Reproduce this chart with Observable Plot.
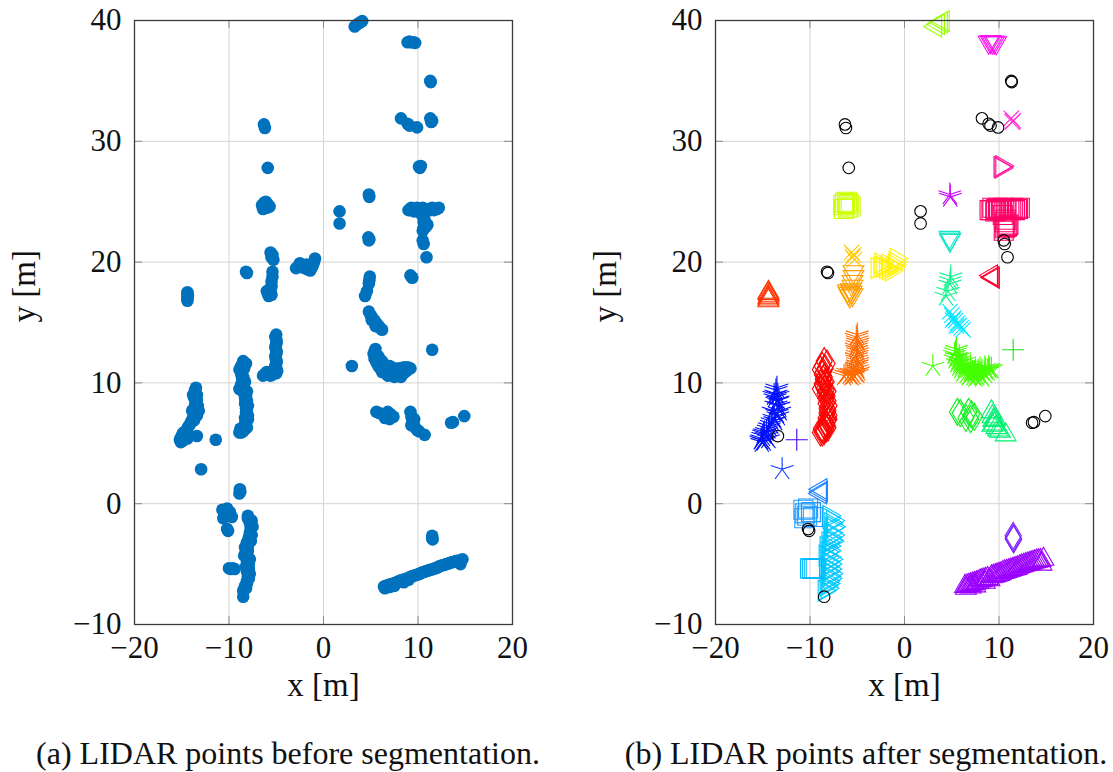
<!DOCTYPE html>
<html>
<head>
<meta charset="utf-8">
<script src="https://cdn.jsdelivr.net/npm/d3@7"></script>
<script src="https://cdn.jsdelivr.net/npm/@observablehq/plot@0.6"></script>
<style>
  html, body { margin: 0; padding: 0; background: #fff; }
  #wrap { position: relative; width: 1113px; height: 772px; overflow: hidden; font-family: "Liberation Serif", serif; }
  .panel { position: absolute; top: 0; }
  .panel svg { display: block; }
  .cap { position: absolute; top: 737px; font-size: 32px; line-height: 32px; text-align: center; white-space: nowrap; color: #111; }
</style>
</head>
<body>
<div id="wrap">
  <div class="panel" id="pa" style="left:0px"></div>
  <div class="panel" id="pb" style="left:556px"></div>
  <div class="cap" style="left:0px;width:576px">(a) LIDAR points before segmentation.</div>
  <div class="cap" style="left:620px;width:492px">(b) LIDAR points after segmentation.</div>
</div>
<script>
// ---------- axis ticks ----------
const xTicks = [-20, -10, 0, 10, 20];
const yTicks = [-10, 0, 10, 20, 30, 40];
const xDomain = [-20, 20];
const yDomain = [-10, 40];

// ---------- segments (x [m], y [m]) ----------
const segLimeTri = [[3.3,39.5],[3.6,39.7],[3.9,39.85],[4.1,39.95]];
const segMagentaTri = [[8.9,38.2],[9.1,38.25],[9.3,38.2],[9.5,38.2],[9.7,38.15]];
const segPinkX = [[11.3,31.9],[11.5,31.7],[11.4,31.6]];
const segPinkTri = [[10.1,27.9],[10.2,27.8],[10.3,27.95]];
const segVioletStar = [[4.8,25.6],[4.85,25.4]];
const segCrimsonSq = [[9.0,24.3],[9.2,24.3],[9.3,24.5],[9.6,24.2],[9.7,24.4],[9.9,24.5],[10.0,24.3],[10.2,24.3],[10.3,24.4],[10.5,24.5],[10.7,24.4],[10.8,24.3],[11.1,24.4],[11.3,24.3],[11.5,24.5],[11.7,24.3],[11.9,24.4],[12.0,24.4],[12.2,24.5],[10.4,23.9],[10.7,23.5],[10.6,23.3],[10.8,22.9],[10.9,23.0],[10.6,22.8],[10.5,22.6],[11.0,23.1]];
const segLimeSq = [[-6.5,24.7],[-6.3,24.9],[-6.1,25.0],[-5.9,24.8],[-5.7,24.6],[-6.4,24.4],[-6.0,24.5]];
const segTealTri = [[4.75,22.05],[4.85,21.9],[4.8,21.8]];
const segGoldX = [[-5.6,20.8],[-5.4,20.6],[-5.5,20.4],[-5.3,20.2]];
const segOrangeTri = [[-5.4,19.2],[-5.4,18.8],[-5.5,18.4],[-5.5,18.0],[-5.7,17.7],[-5.9,17.4],[-5.8,17.2],[-5.5,17.3],[-6.0,17.6],[-5.6,17.5]];
const segYellowTri = [[-2.9,19.5],[-2.6,19.6],[-2.3,19.6],[-2.0,19.5],[-1.7,19.4],[-1.4,19.3],[-1.2,19.6],[-1.0,20.0],[-0.9,20.3],[-1.1,19.8],[-2.5,19.9],[-1.8,19.8]];
const segRedTri = [[9.2,18.9],[9.35,18.75],[9.4,18.7]];
const segRedOrangeTri = [[-14.4,16.8],[-14.4,16.95],[-14.4,17.1],[-14.35,17.25],[-14.4,17.4],[-14.4,17.5]];
const segSeaStar = [[4.9,18.8],[4.85,18.5],[4.8,18.2],[4.6,17.6],[4.4,17.2]];
const segCyanX = [[4.8,15.9],[5.0,15.6],[5.2,15.35],[5.4,15.15],[5.6,14.95],[5.8,14.75],[6.0,14.55],[6.2,14.4],[5.1,15.2],[5.5,14.7]];
const segGreenPlus = [[11.5,12.75]];
const segGreenStar = [[3.0,11.4],[5.5,12.8],[5.4,12.6],[5.3,12.4],[5.5,12.2],[5.4,12.0],[5.7,11.9],[5.6,11.7],[5.9,11.7],[5.8,11.4],[6.1,11.5],[6.0,11.2],[6.4,11.3],[6.3,11.0],[6.7,11.2],[6.6,10.8],[7.0,11.0],[6.9,10.7],[7.4,10.9],[7.3,10.6],[7.8,11.0],[7.7,10.6],[8.2,11.0],[8.1,10.65],[8.6,11.1],[8.5,10.8],[8.9,11.3],[8.8,11.0],[9.2,11.2],[9.0,11.2],[8.5,11.3],[8.0,11.2],[7.5,11.2],[7.0,11.4],[6.5,11.5],[7.8,10.8],[7.2,10.9],[6.2,11.8],[5.8,12.2],[6.8,10.6],[7.5,10.5],[8.2,10.5],[6.2,10.9]];
const segOrangeStar = [[-5.0,14.0],[-5.1,13.8],[-5.0,13.6],[-4.95,13.4],[-5.0,13.2],[-5.1,13.0],[-5.05,12.8],[-4.95,12.6],[-5.0,12.4],[-5.1,12.2],[-5.05,12.0],[-4.95,11.8],[-5.0,11.6],[-5.1,11.4],[-5.0,11.2],[-4.9,11.0],[-5.0,10.8],[-5.2,10.9],[-5.4,10.7],[-5.6,10.6],[-5.8,10.7],[-6.2,10.75],[-6.4,10.6],[-5.6,10.9],[-6.0,10.9]];
const segRedDiam = [[-8.5,11.8],[-8.2,11.6],[-8.7,11.4],[-8.4,11.2],[-8.9,11.1],[-8.6,10.9],[-8.7,10.7],[-8.5,10.5],[-8.6,10.3],[-8.4,10.0],[-8.7,9.9],[-8.6,9.7],[-8.5,9.5],[-8.3,9.4],[-8.4,9.1],[-8.2,8.9],[-8.3,8.7],[-8.1,8.5],[-8.3,8.3],[-8.0,8.1],[-8.2,7.9],[-8.1,7.7],[-8.2,7.5],[-8.0,7.3],[-8.3,7.1],[-8.1,6.9],[-8.3,6.7],[-8.2,6.5],[-8.4,6.4],[-8.3,6.2],[-8.6,6.1],[-8.8,6.2],[-8.5,6.0],[-8.9,5.9],[-8.7,5.9],[-8.1,6.3],[-8.0,7.0],[-8.1,9.3],[-8.3,10.1],[-8.9,9.5]];
const segBlueStar = [[-13.5,9.6],[-13.6,9.4],[-13.6,9.1],[-13.8,9.0],[-13.7,8.8],[-13.4,8.6],[-13.5,8.5],[-13.6,8.2],[-13.3,8.1],[-13.2,7.7],[-13.5,7.5],[-13.4,7.3],[-13.8,7.1],[-13.7,6.9],[-14.0,6.8],[-14.1,6.6],[-14.3,6.4],[-14.4,6.2],[-14.6,6.0],[-14.8,5.9],[-14.9,5.8],[-15.0,5.6],[-15.1,5.4],[-15.2,5.3],[-14.9,5.2],[-15.1,5.1],[-14.6,5.6],[-14.4,5.4],[-13.9,7.7],[-13.4,9.0]];
const segVioletPlus = [[-11.4,5.3]];
const segBlueStar2 = [[-12.95,2.85]];
const segGreenDiam = [[5.6,7.6],[5.9,7.5],[6.5,7.1],[6.8,7.6],[7.1,7.4],[7.4,7.2],[7.0,7.0]];
const segSpringTri = [[9.2,7.6],[9.3,7.2],[9.4,6.9],[9.5,6.6],[9.7,6.3],[9.9,6.1],[10.1,6.0],[9.6,7.0],[9.3,6.5],[10.7,5.7]];
const segBlueTri = [[-8.85,1.2],[-8.8,1.0],[-8.9,0.85]];
const segLightBlueSq = [[-10.7,-0.5],[-10.5,-0.8],[-10.2,-0.4],[-9.9,-0.7],[-9.7,-1.1],[-10.6,-1.2],[-10.3,-1.0]];
const segSkyTri = [[-8.0,-1.0],[-8.0,-1.2],[-7.6,-1.4],[-7.8,-1.6],[-7.5,-1.9],[-7.7,-2.0],[-7.8,-2.4],[-7.6,-2.6],[-7.9,-2.8],[-7.8,-3.0],[-7.7,-3.1],[-8.1,-3.2],[-8.0,-3.5],[-8.3,-3.6],[-8.0,-3.9],[-8.2,-4.0],[-8.4,-4.3],[-8.0,-4.4],[-7.8,-4.6],[-8.1,-4.8],[-7.9,-5.0],[-8.2,-5.2],[-7.9,-5.4],[-8.1,-5.6],[-7.8,-5.8],[-8.0,-6.0],[-7.9,-6.2],[-8.1,-6.4],[-8.1,-6.6],[-8.3,-6.8],[-8.2,-7.0],[-8.5,-7.2]];
const segSkySq = [[-10.0,-5.35],[-9.8,-5.4],[-9.6,-5.35],[-9.4,-5.4]];
const segPurpleDiam = [[11.5,-2.65],[11.5,-2.85],[11.55,-2.95]];
const segPurpleTri = [[6.4,-6.85],[6.5,-7.0],[6.6,-6.8],[6.8,-6.75],[7.0,-6.9],[7.0,-6.7],[7.2,-6.65],[7.4,-6.6],[7.5,-6.8],[7.6,-6.55],[7.8,-6.5],[8.0,-6.4],[8.2,-6.35],[8.4,-6.3],[8.5,-6.5],[8.6,-6.25],[8.8,-6.2],[9.0,-6.3],[9.2,-6.05],[9.4,-6.0],[9.6,-5.95],[9.8,-5.9],[10.0,-5.85],[10.2,-5.8],[10.4,-5.7],[10.6,-5.65],[10.8,-5.6],[11.0,-5.55],[11.2,-5.5],[11.4,-5.45],[11.6,-5.4],[11.8,-5.35],[12.0,-5.3],[12.2,-5.2],[12.4,-5.15],[12.6,-5.1],[12.8,-5.05],[13.0,-5.0],[13.2,-4.95],[13.4,-4.9],[13.6,-4.85],[13.8,-4.8],[14.0,-4.75],[14.2,-4.72],[14.4,-4.7],[14.5,-5.0],[14.7,-4.6]];
const noisePts = [[-6.3,31.4],[-6.2,31.1],[-5.9,27.8],[-8.2,19.2],[-8.1,19.1],[1.7,24.2],[1.7,23.2],[8.2,31.9],[8.9,31.45],[9.1,31.3],[9.9,31.15],[11.3,35.0],[11.35,34.9],[10.5,21.8],[10.6,21.5],[10.9,20.4],[-13.4,5.6],[-10.2,-2.1],[-10.1,-2.25],[-8.5,-7.7],[13.5,6.7],[13.7,6.75],[14.9,7.25]];

// ---------- marker shapes ----------
function mk(fn) { return { draw(ctx, size) { fn(ctx, Math.sqrt(size / Math.PI)); } }; }
const SYM = {
  triUp: mk((c, R) => { c.moveTo(0, -R); c.lineTo(R * 0.866, R * 0.5); c.lineTo(-R * 0.866, R * 0.5); c.closePath(); }),
  triDown: mk((c, R) => { c.moveTo(0, R); c.lineTo(R * 0.866, -R * 0.5); c.lineTo(-R * 0.866, -R * 0.5); c.closePath(); }),
  triLeft: mk((c, R) => { c.moveTo(-R, 0); c.lineTo(R * 0.5, -R * 0.866); c.lineTo(R * 0.5, R * 0.866); c.closePath(); }),
  triRight: mk((c, R) => { c.moveTo(R, 0); c.lineTo(-R * 0.5, -R * 0.866); c.lineTo(-R * 0.5, R * 0.866); c.closePath(); }),
  square: mk((c, R) => { c.moveTo(-R, -R); c.lineTo(R, -R); c.lineTo(R, R); c.lineTo(-R, R); c.closePath(); }),
  diamond: mk((c, R) => { c.moveTo(0, -R); c.lineTo(0.6 * R, 0); c.lineTo(0, R); c.lineTo(-0.6 * R, 0); c.closePath(); }),
  plus: mk((c, R) => { c.moveTo(-R, 0); c.lineTo(R, 0); c.moveTo(0, -R); c.lineTo(0, R); }),
  times: mk((c, R) => { const h = R * 0.707; c.moveTo(-h, -h); c.lineTo(h, h); c.moveTo(-h, h); c.lineTo(h, -h); }),
  star: mk((c, R) => { for (let i = 0; i < 5; i++) { const a = -Math.PI / 2 + i * 2 * Math.PI / 5; c.moveTo(0, 0); c.lineTo(R * Math.cos(a), R * Math.sin(a)); } }),
  circle: mk((c, R) => { c.moveTo(R, 0); c.arc(0, 0, R, 0, 2 * Math.PI); })
};
const SIZE = { triUp: 12, triDown: 12, triLeft: 12, triRight: 12, square: 9.5, diamond: 13.5, plus: 11, times: 11, star: 12, circle: 5.8 };

const segments = [
  { pts: segPurpleTri, color: "#9900ff", sym: "triUp" },
  { pts: segPurpleDiam, color: "#7a1cff", sym: "diamond" },
  { pts: segSkyTri, color: "#00c8ff", sym: "triRight" },
  { pts: segSkySq, color: "#00b8ff", sym: "square" },
  { pts: segLightBlueSq, color: "#1f9bff", sym: "square" },
  { pts: segBlueTri, color: "#1a80ff", sym: "triLeft" },
  { pts: segBlueStar, color: "#0010ff", sym: "star" },
  { pts: segBlueStar2, color: "#0a3cff", sym: "star" },
  { pts: segVioletPlus, color: "#4400ff", sym: "plus" },
  { pts: segRedDiam, color: "#ff0000", sym: "diamond" },
  { pts: segOrangeStar, color: "#ff6a00", sym: "star" },
  { pts: segGreenDiam, color: "#12f020", sym: "diamond" },
  { pts: segSpringTri, color: "#00f070", sym: "triUp" },
  { pts: segGreenStar, color: "#44ff00", sym: "star" },
  { pts: segGreenPlus, color: "#18e020", sym: "plus" },
  { pts: segCyanX, color: "#00e6ff", sym: "times" },
  { pts: segSeaStar, color: "#10f58c", sym: "star" },
  { pts: segRedOrangeTri, color: "#ff3300", sym: "triUp" },
  { pts: segRedTri, color: "#ff0030", sym: "triLeft" },
  { pts: segYellowTri, color: "#fff200", sym: "triRight" },
  { pts: segOrangeTri, color: "#ff9d00", sym: "triDown" },
  { pts: segGoldX, color: "#ffc800", sym: "times" },
  { pts: segTealTri, color: "#14e6c8", sym: "triDown" },
  { pts: segLimeSq, color: "#ccff00", sym: "square" },
  { pts: segCrimsonSq, color: "#ff0066", sym: "square" },
  { pts: segVioletStar, color: "#c800ff", sym: "star" },
  { pts: segPinkTri, color: "#ff1aa0", sym: "triRight" },
  { pts: segPinkX, color: "#ff2ad4", sym: "times" },
  { pts: segMagentaTri, color: "#ff10f0", sym: "triDown" },
  { pts: segLimeTri, color: "#99ff00", sym: "triLeft" }
];

const fmt = d => (d < 0 ? "\u2212" + Math.abs(d) : String(d));
const FONT = "Liberation Serif";

function frameMarks() {
  const tx = 0.85, ty = 0.66;
  return [
    Plot.gridX(xTicks, { stroke: "#d4d4d4", strokeOpacity: 1, strokeWidth: 1 }),
    Plot.gridY(yTicks, { stroke: "#d4d4d4", strokeOpacity: 1, strokeWidth: 1 }),
    Plot.ruleY(yTicks, { y: d => d, x1: xDomain[0], x2: xDomain[0] + tx, stroke: "#8a8a8a" }),
    Plot.ruleY(yTicks, { y: d => d, x1: xDomain[1] - tx, x2: xDomain[1], stroke: "#8a8a8a" }),
    Plot.ruleX(xTicks, { x: d => d, y1: yDomain[0], y2: yDomain[0] + ty, stroke: "#8a8a8a" }),
    Plot.ruleX(xTicks, { x: d => d, y1: yDomain[1] - ty, y2: yDomain[1], stroke: "#8a8a8a" })
  ];
}
function axisMarks() {
  return [
    Plot.frame({ stroke: "#3a3a3a", strokeWidth: 1.3 }),
    Plot.axisX({ ticks: xTicks, tickSize: 0, tickPadding: 11, tickFormat: fmt, fontSize: 31, label: null }),
    Plot.axisY({ ticks: yTicks, tickSize: 0, tickPadding: 13, tickFormat: fmt, fontSize: 31, label: null }),
    Plot.text(["x [m]"], { frameAnchor: "bottom", dy: 71, text: d => d, fontSize: 33 }),
    Plot.text(["y [m]"], { frameAnchor: "left", dx: -110, rotate: -90, text: d => d, fontSize: 33 })
  ];
}
const common = {
  width: 556, height: 720, marginTop: 20, marginBottom: 96,
  x: { domain: xDomain }, y: { domain: yDomain },
  style: { fontFamily: FONT, fontSize: "31px", color: "#111", background: "#fff", overflow: "visible" }
};

const allPts = segments.flatMap(s => s.pts).concat(noisePts);

const plotA = Plot.plot({
  ...common, marginLeft: 134, marginRight: 44,
  marks: [
    ...frameMarks(),
    Plot.dot(allPts, { x: d => d[0], y: d => d[1], r: 6.3, fill: "#0072bd", stroke: "none" }),
    ...axisMarks()
  ]
});
document.getElementById("pa").appendChild(plotA);

const plotB = Plot.plot({
  ...common, marginLeft: 159, marginRight: 19,
  marks: [
    ...frameMarks(),
    ...segments.map(s => Plot.dot(s.pts, { x: d => d[0], y: d => d[1], symbol: SYM[s.sym], r: SIZE[s.sym], stroke: s.color, fill: "none", strokeWidth: 1.1 })),
    Plot.dot(noisePts, { x: d => d[0], y: d => d[1], symbol: SYM.circle, r: SIZE.circle, stroke: "#000", fill: "none", strokeWidth: 1.1 }),
    ...axisMarks()
  ]
});
document.getElementById("pb").appendChild(plotB);
</script>
</body>
</html>
